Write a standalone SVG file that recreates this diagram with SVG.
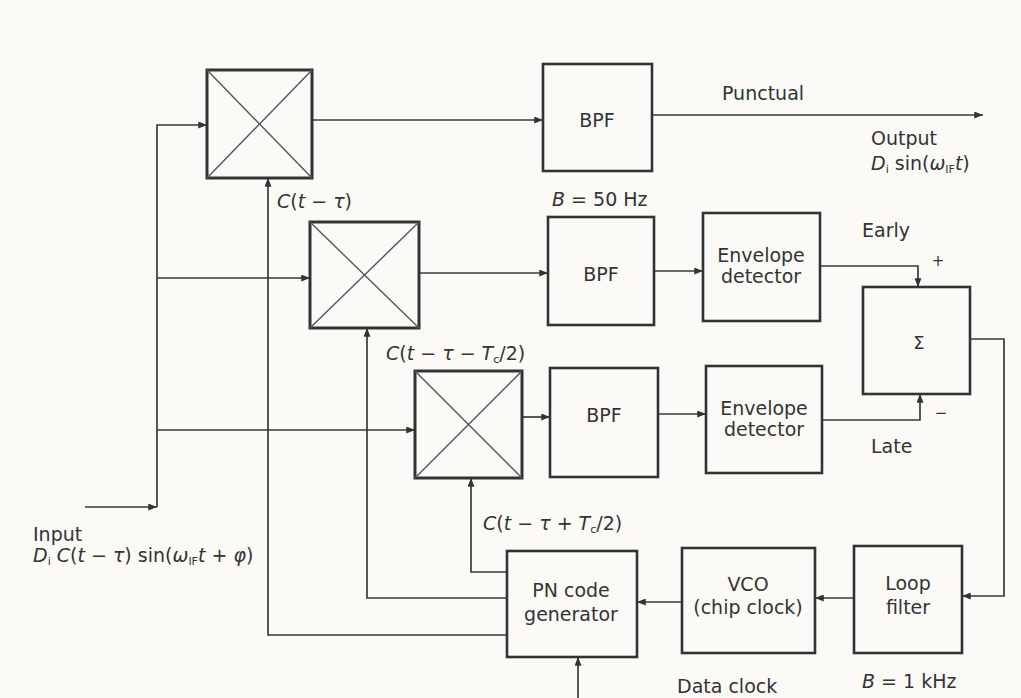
<svg xmlns="http://www.w3.org/2000/svg" width="1021" height="698" viewBox="0 0 1021 698">
<defs>
<marker id="ah" viewBox="0 0 10 8" refX="10" refY="4" markerWidth="9" markerHeight="7" markerUnits="userSpaceOnUse" orient="auto">
<path d="M0,0 L10,4 L0,8 z" fill="#333"/>
</marker>
<style>
.bg{fill:#fbfaf6}
.box{fill:none;stroke:#333;stroke-width:2.6}
.mix{fill:none;stroke:#333;stroke-width:3}
.diag{stroke:#555;stroke-width:1.4}
.wire{fill:none;stroke:#3a3a3a;stroke-width:1.7}
.arr{marker-end:url(#ah)}
text{font-family:"DejaVu Sans","Liberation Sans",sans-serif;font-size:19px;fill:#333}
.c{text-anchor:middle}
.i{font-style:italic}
.sub{font-size:11px}
</style>
</defs>
<rect class="bg" x="0" y="0" width="1021" height="698"/>

<g id="connectors">
<path class="wire arr" d="M85,507 H157"/>
<path class="wire arr" d="M157,507 V125 H207"/>
<path class="wire arr" d="M157,278 H310"/>
<path class="wire arr" d="M157,430 H415"/>
<path class="wire arr" d="M312,120 H543"/>
<path class="wire arr" d="M652,115 H983"/>
<path class="wire arr" d="M419,273 H548"/>
<path class="wire arr" d="M654,271 H703"/>
<path class="wire arr" d="M522,417 H550"/>
<path class="wire arr" d="M658,414 H706"/>
<path class="wire arr" d="M820,266 H918 V287"/>
<path class="wire arr" d="M822,420 H920 V394"/>
<path class="wire arr" d="M970,339 H1004 V596 H962"/>
<path class="wire arr" d="M854,598 H815"/>
<path class="wire arr" d="M682,602 H637"/>
<path class="wire arr" d="M578,698 V657"/>
<path class="wire arr" d="M507,635 H268 V178"/>
<path class="wire arr" d="M507,598 H367 V328"/>
<path class="wire arr" d="M507,572 H471 V478"/>
</g>

<g id="mixer1">
<rect class="mix" x="207" y="70" width="105" height="108"/>
<line class="diag" x1="207" y1="70" x2="312" y2="178"/>
<line class="diag" x1="312" y1="70" x2="207" y2="178"/>
</g>
<g id="mixer2">
<rect class="mix" x="310" y="222" width="109" height="106"/>
<line class="diag" x1="310" y1="222" x2="419" y2="328"/>
<line class="diag" x1="419" y1="222" x2="310" y2="328"/>
</g>
<g id="mixer3">
<rect class="mix" x="415" y="371" width="107" height="107"/>
<line class="diag" x1="415" y1="371" x2="522" y2="478"/>
<line class="diag" x1="522" y1="371" x2="415" y2="478"/>
</g>

<g id="bpf1">
<rect class="box" x="543" y="64" width="109" height="107"/>
<text class="c" x="597" y="127">BPF</text>
</g>
<g id="bpf2">
<rect class="box" x="548" y="217" width="106" height="108"/>
<text class="c" x="601" y="281">BPF</text>
</g>
<g id="bpf3">
<rect class="box" x="550" y="368" width="108" height="109"/>
<text class="c" x="604" y="422">BPF</text>
</g>

<g id="env1">
<rect class="box" x="703" y="213" width="117" height="108"/>
<text class="c" x="761" y="262">Envelope</text>
<text class="c" x="761" y="283">detector</text>
</g>
<g id="env2">
<rect class="box" x="706" y="366" width="116" height="107"/>
<text class="c" x="764" y="415">Envelope</text>
<text class="c" x="764" y="436">detector</text>
</g>

<g id="sum">
<rect class="box" x="863" y="287" width="107" height="107"/>
<text class="c" x="919" y="349" style="font-size:18px">Σ</text>
</g>

<g id="loopfilter">
<rect class="box" x="854" y="546" width="108" height="107"/>
<text class="c" x="908" y="590">Loop</text>
<text class="c" x="908" y="614">filter</text>
</g>

<g id="vco">
<rect class="box" x="682" y="548" width="133" height="105"/>
<text class="c" x="748" y="591">VCO</text>
<text class="c" x="748" y="614">(chip clock)</text>
</g>

<g id="pngen">
<rect class="box" x="507" y="551" width="130" height="106"/>
<text class="c" x="571" y="597">PN code</text>
<text class="c" x="571" y="621">generator</text>
</g>

<g id="labels">
<text x="722" y="100">Punctual</text>
<text x="871" y="145">Output</text>
<text x="871" y="170"><tspan class="i">D</tspan><tspan class="sub" dy="3">i</tspan><tspan dy="-3"> sin(</tspan><tspan class="i">ω</tspan><tspan class="sub" dy="3">IF</tspan><tspan class="i" dy="-3">t</tspan>)</text>
<text x="552" y="206"><tspan class="i">B</tspan> = 50 Hz</text>
<text x="862" y="237">Early</text>
<text x="938" y="266" class="c" style="font-size:15px">+</text>
<text x="941" y="418" class="c" style="font-size:15px">−</text>
<text x="871" y="453">Late</text>
<text x="862" y="688"><tspan class="i">B</tspan> = 1 kHz</text>
<text x="277" y="208"><tspan class="i">C</tspan>(<tspan class="i">t</tspan> − <tspan class="i">τ</tspan>)</text>
<text x="386" y="360"><tspan class="i">C</tspan>(<tspan class="i">t</tspan> − <tspan class="i">τ</tspan> − <tspan class="i">T</tspan><tspan class="sub" dy="3">c</tspan><tspan dy="-3">/2)</tspan></text>
<text x="483" y="530"><tspan class="i">C</tspan>(<tspan class="i">t</tspan> − <tspan class="i">τ</tspan> + <tspan class="i">T</tspan><tspan class="sub" dy="3">c</tspan><tspan dy="-3">/2)</tspan></text>
<text x="33" y="541">Input</text>
<text x="33" y="562"><tspan class="i">D</tspan><tspan class="sub" dy="3">i</tspan><tspan dy="-3"> </tspan><tspan class="i">C</tspan>(<tspan class="i">t</tspan> − <tspan class="i">τ</tspan>) sin(<tspan class="i">ω</tspan><tspan class="sub" dy="3">IF</tspan><tspan class="i" dy="-3">t</tspan> + <tspan class="i">φ</tspan>)</text>
<text x="677" y="693">Data clock</text>
</g>
</svg>
